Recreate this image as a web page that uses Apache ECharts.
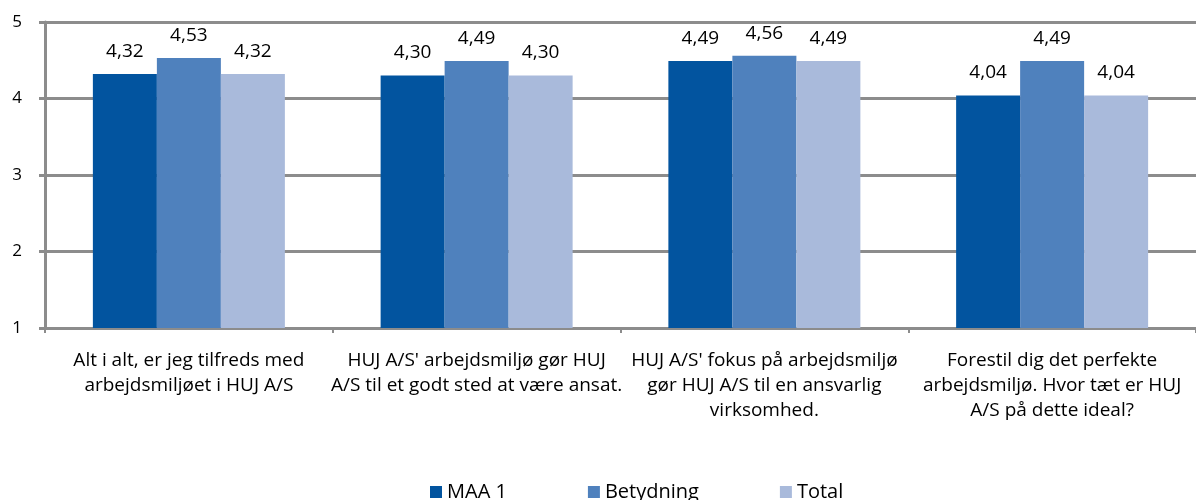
<!DOCTYPE html>
<html><head><meta charset="utf-8">
<script src="https://cdn.jsdelivr.net/npm/echarts@6/dist/echarts.min.js"></script>
<style>html,body{margin:0;padding:0;background:#fff}#c{width:1196px;height:500px}</style>
</head><body><div id="c"></div>
<script>
const categories = [
  "Alt i alt, er jeg tilfreds med\narbejdsmiljøet i HUJ A/S",
  "HUJ A/S' arbejdsmiljø gør HUJ\nA/S til et godt sted at være ansat.",
  "HUJ A/S' fokus på arbejdsmiljø\ngør HUJ A/S til en ansvarlig\nvirksomhed.",
  "Forestil dig det perfekte\narbejdsmiljø. Hvor tæt er HUJ\nA/S på dette ideal?"
];
const seriesNames = ["MAA 1", "Betydning", "Total"];
const maa1 = [4.32, 4.30, 4.49, 4.04];
const betydning = [4.53, 4.49, 4.56, 4.49];
const total = [4.32, 4.30, 4.49, 4.04];
const colors = ["#02549F", "#4F81BD", "#A9BADB"];
const FONT = "Open Sans";

const chart = echarts.init(document.getElementById('c'));
const mk = (name, data, color) => ({
  name, type: 'bar', data, barWidth: 64, barGap: '0%',
  itemStyle: { color },
  label: {
    show: true, position: 'top', distance: 13,
    fontFamily: FONT, fontSize: 19, color: '#000',
    formatter: p => p.value.toFixed(2).replace('.', ',')
  }
});
chart.setOption({
  animation: false,
  textStyle: { fontFamily: FONT },
  grid: { left: 45, width: 1160, top: 22, bottom: 172, containLabel: false },
  legend: {
    top: 482, left: 430, itemWidth: 12, itemHeight: 12, itemGap: 81,
    icon: 'rect', padding: 0,
    textStyle: { fontFamily: FONT, fontSize: 20, color: '#000' },
    data: seriesNames
  },
  xAxis: {
    type: 'category', data: categories,
    axisLine: { lineStyle: { color: '#8c8c8c', width: 3 } },
    axisTick: { show: true, length: 5, lineStyle: { color: '#8c8c8c', width: 2 } },
    axisLabel: { interval: 0, margin: 20, fontFamily: FONT, fontSize: 19, lineHeight: 25, color: '#000' }
  },
  yAxis: {
    type: 'value', min: 1, max: 5, interval: 1,
    axisLine: { show: true, lineStyle: { color: '#8c8c8c', width: 3 } },
    axisTick: { show: true, length: 6, lineStyle: { color: '#8c8c8c', width: 3 } },
    splitLine: { show: true, lineStyle: { color: '#8c8c8c', width: 3 } },
    axisLabel: { margin: 23, fontFamily: FONT, fontSize: 17, color: '#000' }
  },
  series: [mk(seriesNames[0], maa1, colors[0]), mk(seriesNames[1], betydning, colors[1]), mk(seriesNames[2], total, colors[2])]
});
</script></body></html>
